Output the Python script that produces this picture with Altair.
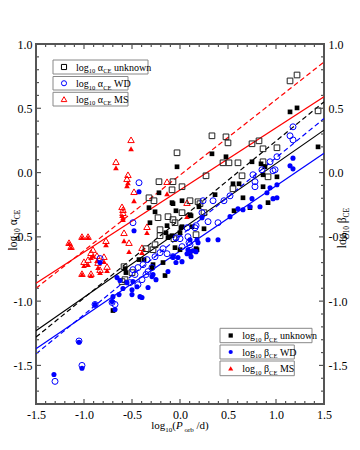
import altair as alt
import pandas as pd

# ---------------- data ----------------
# MS systems (alpha: open triangles, beta: filled triangles)
ms_x = [-0.510, -0.667, -0.542, -0.552, -0.479, -0.604, -0.594, -0.594, -0.583, -0.344,
        -0.771, -0.531, -0.396, -0.135, 0.073, -1.021, -0.958, -1.156, -1.135, -0.906,
        -0.927, -0.865, -0.792, -0.958, -0.854, -0.760, -0.927, -1.021, -0.833, -1.000]
ms_alpha = [0.255, 0.084, -0.017, -0.048, -0.149, -0.266, -0.289, -0.312, -0.468, -0.421,
            -0.530, -0.545, -0.584, -0.071, -0.234, -0.498, -0.498, -0.545, -0.576, -0.599,
            -0.623, -0.646, -0.654, -0.677, -0.700, -0.731, -0.786, -0.786, -0.755, -0.693]
ms_beta = [0.185, 0.037, -0.079, -0.102, -0.219, -0.335, -0.351, -0.366, -0.530, -0.467,
           -0.561, -0.615, -0.623, -0.165, -0.343, -0.506, -0.506, -0.553, -0.584, -0.646,
           -0.661, -0.685, -0.693, -0.716, -0.739, -0.762, -0.801, -0.793, -0.778, -0.724]

# unknown companions
unk_alpha_x = [1.146, 1.219, 1.438, 0.333, 0.479, 0.500, 0.750, 0.823, 1.010, 0.865,
               -0.031, 0.865, 0.917, 0.448, 0.510, 0.604, 0.271, 0.646, 0.552, 0.104,
               0.250, 0.167, -0.219, -0.083, 0.021, -0.323, -0.271, -0.073, -0.125, -0.073,
               -0.052, -0.208, -0.208, -0.260, -0.281, -0.354, -0.583, -0.500, -0.573, -0.604,
               0.188, 0.208, -0.229, 0.021, -0.063]
unk_alpha_y = [0.713, 0.759, 0.480, 0.286, 0.278, 0.231, 0.224, 0.247, 0.193, 0.185,
               0.154, 0.084, -0.033, 0.076, 0.076, 0.076, -0.025, -0.025, -0.126, -0.219,
               -0.312, -0.483, -0.071, -0.134, -0.110, -0.196, -0.219, -0.071, -0.343, -0.366,
               -0.390, -0.444, -0.491, -0.561, -0.600, -0.592, -0.732, -0.778, -0.833, -0.848,
               -0.227, -0.242, -0.351, -0.312, -0.514]
unk_beta_x = [1.146, 1.219, 1.438, 0.333, 0.479, 0.750, 0.844, 0.885, 0.865, 1.010,
              0.865, -0.031, 0.552, 0.615, 0.656, 0.917, 0.563, 0.729, 0.115, 0.250,
              0.010, 0.167, -0.219, -0.323, -0.083, 0.021, 0.365, 0.198, -0.042, -0.313,
              -0.135, -0.146, -0.125, -0.083, -0.375, -0.427, -0.292, -0.177, -0.563, -0.573,
              -0.260, -0.073, 0.104, 0.021, 0.125, -0.115, -0.052, 0.000, 0.104, 0.177,
              -0.281, -0.156, -0.698, 0.000]
unk_beta_y = [0.472, 0.503, 0.200, 0.146, 0.123, 0.084, 0.068, 0.045, -0.017, -0.033,
              -0.110, 0.045, -0.087, -0.087, -0.196, -0.234, -0.297, -0.273, -0.336, -0.437,
              -0.429, -0.592, -0.157, -0.273, -0.234, -0.219, -0.172, -0.266, -0.297, -0.390,
              -0.413, -0.468, -0.506, -0.491, -0.677, -0.677, -0.739, -0.700, -0.778, -0.747,
              -0.305, -0.242, -0.328, -0.421, -0.421, -0.499, -0.584, -0.600, -0.623, -0.600,
              -0.716, -0.801, -1.073, -0.467]

# WD companions
wd_alpha_x = [1.177, 1.146, 1.177, 0.938, 1.010, 0.854, 0.760, 0.781, 0.990, 0.969,
              0.781, 0.521, 0.240, 0.344, 0.292, 0.396, 0.073, 0.167, 0.083, 0.104,
              0.458, -0.427, -0.490, -0.042, 0.000, 0.156, 0.229, -0.177, -0.208, -0.260,
              -0.135, 0.021, 0.094, -0.438, -0.490, -0.469, -0.396, -0.354, -0.333, -0.833,
              -0.521, -0.438, -0.385, -0.344, -0.292, -0.073, -0.885, -0.708, -0.677, -1.302,
              -1.052, -1.021]
wd_alpha_y = [0.356, 0.286, 0.254, 0.084, 0.123, 0.022, -0.017, -0.110, 0.022, 0.014,
              -0.071, -0.181, -0.219, -0.219, -0.382, -0.390, -0.429, -0.413, -0.499, -0.561,
              -0.219, -0.079, -0.390, -0.507, -0.514, -0.429, -0.312, -0.592, -0.623, -0.654,
              -0.631, -0.576, -0.545, -0.739, -0.755, -0.793, -0.833, -0.793, -0.770, -0.669,
              -0.856, -0.872, -0.716, -0.677, -0.739, -0.654, -1.026, -1.010, -1.026, -1.624,
              -1.310, -1.500]
wd_beta_x = [1.177, 1.146, 1.177, 1.010, 0.938, 0.906, 0.969, 1.010, 0.750, 0.604,
             0.656, 0.729, 0.833, 0.521, 0.229, 0.104, 0.177, 0.292, 0.396, 0.083,
             0.104, 0.115, -0.427, -0.479, -0.073, -0.021, 0.021, 0.073, 0.135, 0.167,
             0.188, -0.281, -0.250, -0.125, -0.042, -0.500, -0.396, -0.594, -0.635, -0.698,
             -0.656, -0.625, -0.552, -0.490, -0.448, -0.500, -0.417, -0.333, -0.292, -0.885,
             -0.708, -0.677, -1.052, -1.021, -1.313, -0.833]
wd_beta_y = [0.112, 0.053, 0.029, -0.095, -0.118, -0.157, -0.203, -0.196, -0.203, -0.281,
             -0.289, -0.266, -0.266, -0.343, -0.351, -0.522, -0.522, -0.522, -0.522, -0.600,
             -0.615, -0.654, -0.149, -0.453, -0.654, -0.661, -0.693, -0.631, -0.608, -0.615,
             -0.545, -0.793, -0.833, -0.770, -0.700, -0.949, -0.972, -0.902, -0.949, -0.965,
             -0.817, -0.840, -0.856, -0.848, -0.888, -0.911, -0.965, -0.894, -0.809, -1.026,
             -1.003, -1.065, -1.320, -1.522, -1.570, -0.700]

# linear fits: y at x = -1.5 and x = 1.5
fit_x = [-1.5, 1.5]
fit_red_solid = [-0.86, 0.59]
fit_red_dash = [-0.90, 0.86]
fit_black_solid = [-1.23, 0.33]
fit_black_dash = [-1.28, 0.55]
fit_blue_solid = [-1.37, 0.15]
fit_blue_dash = [-1.41, 0.42]

x_major = [-1.5, -1.0, -0.5, 0.0, 0.5, 1.0, 1.5]
y_major = [-1.5, -1.0, -0.5, 0.0, 0.5, 1.0]
x_minor = [v for v in [round(-1.5 + 0.1 * i, 1) for i in range(31)] if v not in x_major]
y_minor = [v for v in [round(-1.7 + 0.1 * i, 1) for i in range(27)] if v not in y_major]

# ---------------- styling ----------------
SERIF = "Liberation Serif"
RED, BLUE, BLACK = "#ff0000", "#0000ff", "#000000"
FRAME = "#555555"
W, H = 288, 360
xs = alt.Scale(domain=[-1.5, 1.5], nice=False, zero=False)
ys = alt.Scale(domain=[-1.8, 1.0], nice=False, zero=False)
LE = "datum.value < 0 ? '-' + format(-datum.value, '.1f') : format(datum.value, '.1f')"


def pts(xv, yv, shape, color, filled, size):
    df = pd.DataFrame({"x": xv, "y": yv})
    if filled:
        m = alt.Chart(df).mark_point(shape=shape, filled=True, color=color, size=size, opacity=1)
    else:
        m = alt.Chart(df).mark_point(shape=shape, filled=False, color=color, size=size,
                                     strokeWidth=1, opacity=1)
    return m.encode(x=alt.X("x:Q", scale=xs, axis=None), y=alt.Y("y:Q", scale=ys, axis=None))


def fit(yv, color, dash):
    df = pd.DataFrame({"x": fit_x, "y": yv})
    kw = dict(color=color, strokeWidth=1.2, clip=True)
    if dash:
        kw["strokeDash"] = [5, 3]
    return alt.Chart(df).mark_line(**kw).encode(
        x=alt.X("x:Q", scale=xs, axis=None), y=alt.Y("y:Q", scale=ys, axis=None))


TW = {' ': 0.25, 'l': 0.278, 'o': 0.5, 'g': 0.5, '1': 0.5, '0': 0.5, 'α': 0.54, 'β': 0.5,
      'C': 0.667, 'E': 0.611, 'u': 0.5, 'n': 0.5, 'k': 0.5, 'w': 0.722, 'W': 0.944,
      'D': 0.722, 'M': 0.889, 'S': 0.556, '(': 0.333, ')': 0.333, 'P': 0.611, 'r': 0.333,
      'b': 0.5, '/': 0.278, 'd': 0.5}


def tw(s, fs):
    return sum(TW.get(c, 0.5) for c in s) * fs


def rich(pieces, x0, y0, fs, sfs, vertical=False, center=False):
    sizes = [sfs if k == "sub" else fs for _, k in pieces]
    total = sum(tw(t, s) for (t, _), s in zip(pieces, sizes))
    pos = -total / 2 if center else 0
    out = []
    for (t, k), s in zip(pieces, sizes):
        lead = len(t) - len(t.lstrip(" "))
        pos += tw(" " * lead, s)
        t = t.lstrip(" ")
        off = fs * 0.28 if k == "sub" else 0
        if vertical:
            x, y, ang = x0 + off, y0 - pos, 270
        else:
            x, y, ang = x0 + pos, y0 + off, 0
        out.append(alt.Chart(pd.DataFrame({"t": [t]})).mark_text(
            align="left", baseline="alphabetic", font=SERIF, fontSize=s,
            fontStyle="italic" if k == "it" else "normal", angle=ang, color="black"
        ).encode(x=alt.value(x), y=alt.value(y), text="t:N"))
        pos += tw(t, s)
    return out


one = pd.DataFrame({"a": [0]})


def box(x1, x2, y1, y2):
    return alt.Chart(one).mark_rect(fill="white", stroke="#888888", strokeWidth=1).encode(
        x=alt.value(x1), x2=alt.value(x2), y=alt.value(y1), y2=alt.value(y2))


def sym(x, y, shape, color, filled, size):
    kw = dict(shape=shape, color=color, size=size, opacity=1, filled=filled)
    if not filled:
        kw["strokeWidth"] = 1
    return alt.Chart(one).mark_point(**kw).encode(x=alt.value(x), y=alt.value(y))


def ticks(vals, axis_ch, length):
    df = pd.DataFrame({"v": vals})
    out = []
    if axis_ch == "x":
        for a, b in [(H, H - length), (0, length)]:
            out.append(alt.Chart(df).mark_rule(color=FRAME, strokeWidth=1.2).encode(
                x=alt.X("v:Q", scale=xs, axis=None), y=alt.value(a), y2=alt.value(b)))
    else:
        for a, b in [(0, length), (W, W - length)]:
            out.append(alt.Chart(df).mark_rule(color=FRAME, strokeWidth=1.2).encode(
                y=alt.Y("v:Q", scale=ys, axis=None), x=alt.value(a), x2=alt.value(b)))
    return out


axis_common = dict(labelExpr=LE, ticks=False, domain=False, grid=False,
                   labelFont=SERIF, labelFontSize=12, labelColor="black", title=None,
                   labelFlush=False, labelOverlap=False)


def ax(**kw):
    d = dict(axis_common)
    d.update(kw)
    return alt.Axis(**d)


ax_bottom = alt.Chart(pd.DataFrame({"v": x_major})).mark_point(opacity=0).encode(
    x=alt.X("v:Q", scale=xs, axis=ax(values=x_major, orient="bottom", labelPadding=5)))
ax_left = alt.Chart(pd.DataFrame({"v": y_major})).mark_point(opacity=0).encode(
    y=alt.Y("v:Q", scale=ys, axis=ax(values=y_major, orient="left", labelPadding=4)))
ax_right = alt.Chart(pd.DataFrame({"v": y_major})).mark_point(opacity=0).encode(
    y=alt.Y("v:Q", scale=ys, axis=ax(values=y_major, orient="right", labelPadding=4)))

layers = [ax_bottom, ax_left, ax_right,
          fit(fit_red_dash, RED, True), fit(fit_red_solid, RED, False),
          fit(fit_black_dash, BLACK, True), fit(fit_black_solid, BLACK, False),
          fit(fit_blue_dash, BLUE, True), fit(fit_blue_solid, BLUE, False),
          pts(ms_x, ms_alpha, "triangle-up", RED, False, 42),
          pts(ms_x, ms_beta, "triangle-up", RED, True, 32),
          pts(unk_alpha_x, unk_alpha_y, "square", "#222222", False, 32),
          pts(unk_beta_x, unk_beta_y, "square", BLACK, True, 22),
          pts(wd_alpha_x, wd_alpha_y, "circle", BLUE, False, 36),
          pts(wd_beta_x, wd_beta_y, "circle", BLUE, True, 26)]
layers += ticks(x_major, "x", 5) + ticks(x_minor, "x", 3)
layers += ticks(y_major, "y", 5) + ticks(y_minor, "y", 3)

# legends
FS, SFS = 10, 6.5
tl = [("unknown", "square", BLACK, 17, 112, 16, 30),
      ("WD", "circle", BLUE, 17, 92, 32.5, 46),
      ("MS", "triangle-up", RED, 17, 92, 48.3, 62)]
for lab, shp, col, x1, x2, y1, y2 in tl:
    layers.append(box(x1, x2, y1, y2))
    layers.append(sym(28, (y1 + y2) / 2, shp, col, False, 26 if shp != "triangle-up" else 32))
    layers += rich([("log", "n"), ("10", "sub"), (" α", "n"), ("CE", "sub"), (" " + lab, "n")],
                   40, (y1 + y2) / 2 + 3.5, FS, SFS)
br = [("unknown", "square", BLACK, 184, 276, 284.3, 298.7),
      ("WD", "circle", BLUE, 184, 258.3, 301, 315),
      ("MS", "triangle-up", RED, 184, 258.3, 317, 331.7)]
for lab, shp, col, x1, x2, y1, y2 in br:
    layers.append(box(x1, x2, y1, y2))
    layers.append(sym(194.7, (y1 + y2) / 2, shp, col, True, 18 if shp != "triangle-up" else 26))
    layers += rich([("log", "n"), ("10", "sub"), (" β", "n"), ("CE", "sub"), (" " + lab, "n")],
                   206.3, (y1 + y2) / 2 + 3.5, FS, SFS)

# axis titles
layers += rich([("log", "n"), ("10", "sub"), ("(", "n"), ("P", "it"), (" orb", "sub"), (" /d)", "n")],
               144, 385, 11, 7, center=True)
layers += rich([("log", "n"), ("10", "sub"), (" α", "n"), ("CE", "sub")],
               -19.5, 186, 11.5, 7.5, vertical=True, center=True)
layers += rich([("log", "n"), ("10", "sub"), (" β", "n"), ("CE", "sub")],
               310, 184, 11.5, 7.5, vertical=True, center=True)

chart = alt.layer(*layers).resolve_axis(x="independent", y="independent").properties(
    width=W, height=H,
    padding={"left": 28, "top": 36, "right": 28, "bottom": 38},
    autosize=alt.AutoSizeParams(type="none"),
    background="white",
).configure_view(stroke=FRAME, strokeWidth=2)

chart.save("out.html", embed_options={"renderer": "svg", "actions": False})
